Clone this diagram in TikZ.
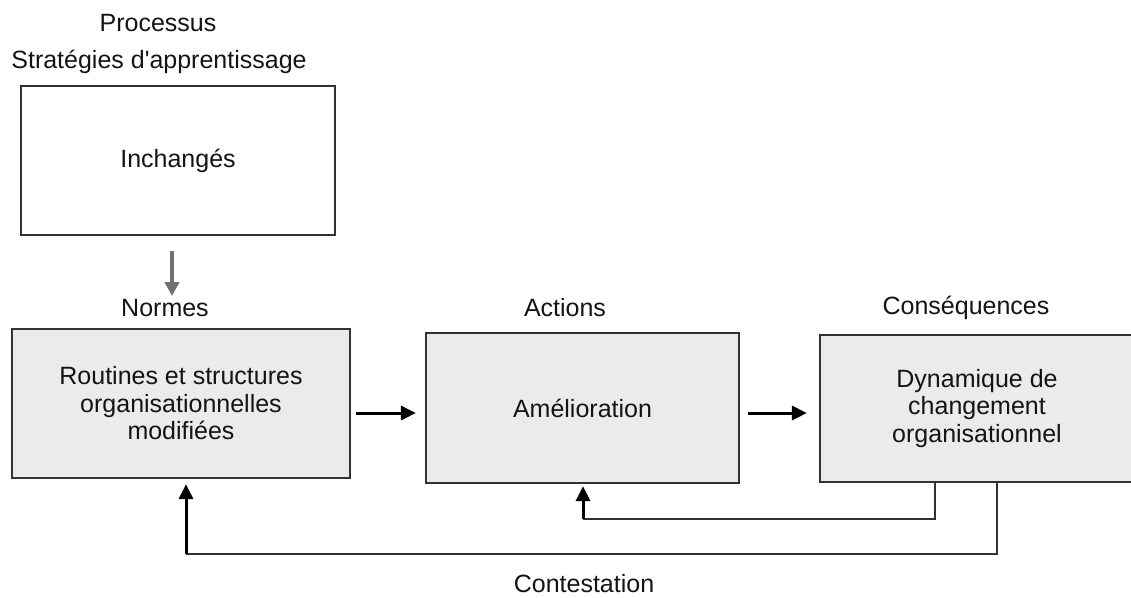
\documentclass[tikz,border=0pt]{standalone}
\usepackage{fontspec}
\setmainfont{Liberation Sans}
\usetikzlibrary{arrows.meta}
\definecolor{boxfill}{HTML}{EBEBEB}
\definecolor{boxline}{HTML}{333333}
\definecolor{txt}{HTML}{141414}
\definecolor{soft}{HTML}{707070}
\tikzset{
  lbl/.style={text=txt, font=\fontsize{25}{27.5}\selectfont, inner sep=0pt},
  stage/.style={draw=boxline, line width=2.2pt, fill=boxfill, align=center,
    text=txt, font=\fontsize{25}{27.5}\selectfont, inner sep=0pt,
    minimum width=#1, minimum height=149pt},
  plain/.style={stage=314pt, fill=white},
  arr/.style={line width=3pt, draw=black, -{Triangle[length=15pt,width=14pt]}},
  loop/.style={line width=2.5pt, draw=black!80},
  grayarr/.style={line width=3.2pt, draw=soft, -{Triangle[length=14pt,width=14pt,fill=soft]}}
}
\begin{document}
\begin{tikzpicture}[x=1pt,y=-1pt]
  \useasboundingbox (0,0) rectangle (1131,597);

  % headings
  \node[lbl] (proc) at (158,23) {Processus};
  \node[lbl] (strat) at (159,62) {Stratégies d\textquotesingle apprentissage};
  \node[lbl] (normes) at (165,308) {Normes};
  \node[lbl] (actions) at (565,308) {Actions};
  \node[lbl] (cons) at (966,308) {Conséquences};
  \node[lbl] (contest) at (584,584) {Contestation};

  % boxes
  \node[plain] (inch) at (178,160.5) {Inchangés};
  \node[stage=338pt] (rout) at (181,403.5) {Routines et structures\\organisationnelles\\modifiées};
  \node[stage=313pt, minimum height=150pt] (amel) at (582.5,408) {Amélioration};
  \node[stage=314pt, minimum height=147pt] (dyn) at (977,408.5) {Dynamique de\\changement\\organisationnel};

  % reference levels for the connectors
  \coordinate (mid) at (0,413);
  \coordinate (loopA) at (935,519);
  \coordinate (loopB) at (997,554);
  \coordinate (down) at (172,0);
  \coordinate (upA) at (583,0);
  \coordinate (upB) at (186,0);

  % unchanged -> norms
  \draw[grayarr, shorten <=15pt, shorten >=3pt] (inch.south -| down) -- (normes.north -| down);

  % forward chain
  \draw[arr, shorten <=5pt, shorten >=9pt] (rout.east |- mid) -- (amel.west |- mid);
  \draw[arr, shorten <=8pt, shorten >=12pt] (amel.east |- mid) -- (dyn.west |- mid);

  % feedback loops
  \draw[loop] (dyn.south -| loopA) -- (loopA) -- (loopA -| upA);
  \draw[arr, shorten >=2pt] (loopA -| upA) -- (amel.south -| upA);
  \draw[loop] (dyn.south -| loopB) -- (loopB) -- (loopB -| upB);
  \draw[arr, shorten >=5pt] (loopB -| upB) -- (rout.south -| upB);
\end{tikzpicture}
\end{document}
